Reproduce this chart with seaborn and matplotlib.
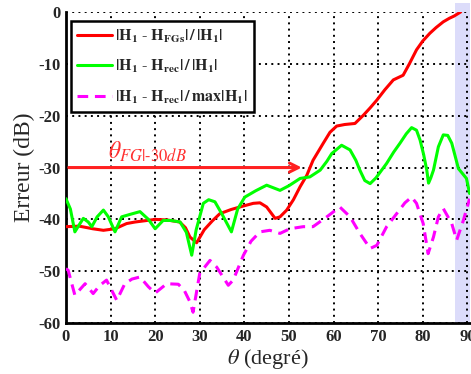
import numpy as np
import pandas as pd
import matplotlib
matplotlib.use("Agg")
import matplotlib.pyplot as plt
import seaborn as sns

# courbe |H1 - H_FGs| / |H1|
theta_fgs = [0, 3, 6, 8.4, 11, 13.6, 15.5, 17.3, 20, 22.6, 25.5, 26.8, 27.8, 29.3, 31, 32.8,
             34.5, 37, 39, 42, 43.5, 45, 46.9, 48, 49.5, 51, 52.5, 54, 55.4, 57.7, 59.2, 60.7,
             62.5, 64.8, 66.7, 68.2, 69.7, 71.5, 73.4, 75.6, 77, 78.6, 80, 81.6, 83, 84.6, 86,
             87, 88.5]
err_fgs = [-41.4, -41.3, -41.8, -42.1, -41.8, -40.8, -40.5, -40.3, -40, -40.1, -40.5, -41.6,
           -43.4, -44.5, -42, -40.3, -38.9, -38.1, -37.6, -36.9, -36.8, -37.6, -39.8, -39.5,
           -38.2, -36.2, -33.7, -31.5, -28.6, -25.3, -23.2, -22, -21.7, -21.5, -19.9, -18.5,
           -17, -15, -13.1, -12.2, -10, -7.3, -5.6, -4.1, -3, -1.9, -1.2, -0.8, 0]

# courbe |H1 - H_rec| / |H1|
theta_rec = [0, 1, 2, 3, 3.9, 5, 5.8, 7, 8.4, 9.5, 11, 12.5, 14.5, 16.6, 18.5, 20, 21.8, 23.5,
             25.6, 27, 28.2, 29.2, 30.8, 32, 33.4, 35, 37.1, 38.5, 40.1, 42.5, 45, 48, 50, 52.5,
             54.7, 57, 58.5, 59.6, 61.8, 63.7, 65, 65.9, 67, 68.2, 69.5, 71.9, 73.5, 74.9, 76.3,
             77.5, 78.6, 79.4, 80.2, 80.9, 81.3, 81.8, 82.4, 83.5, 84.6, 85.6, 86.5, 88, 89.8,
             90.5]
err_rec = [-36, -38, -42.4, -41, -39.8, -40.5, -41.4, -39.5, -38.2, -39.5, -42.4, -39.5, -39,
           -38.5, -40, -41.8, -40.2, -40.2, -40.5, -42.5, -46.9, -42, -36.9, -36.2, -36.6, -39,
           -42.4, -38, -35.7, -34.5, -33.4, -34.4, -33.5, -32.1, -31.8, -30.5, -28.8, -27.3,
           -25.7, -26.6, -28.6, -30.5, -32.5, -33.1, -32, -29.2, -27, -25.3, -23.5, -22.3,
           -22.8, -24.7, -27.5, -30.5, -33, -32, -30.5, -26, -23.7, -23.8, -25.3, -30.2, -32.1,
           -35]

# courbe |H1 - H_rec| / max|H1|
theta_max = [0, 0.5, 2, 4.3, 6.1, 7.5, 9.1, 11.4, 13.2, 14.8, 16.6, 18.5, 20, 22.6, 25.2, 26.6,
             27.8, 28.5, 30, 32.3, 33.8, 36.4, 37.5, 39.8, 41.5, 43.5, 45.7, 48, 50.2, 53.2, 55.4,
             58.5, 61.4, 63.7, 65.9, 68.2, 69.7, 71.9, 74.5, 76, 77.5, 78.6, 80.1, 81.2, 82.4,
             83.5, 84.6, 86.5, 87.6, 89.1, 90.5]
err_max = [-49.5, -49.8, -54.6, -52.4, -54.3, -52.8, -51.7, -55.6, -52.4, -51.5, -51.1, -53,
           -54.2, -52.4, -52.5, -53.8, -55.9, -57.9, -50.4, -47.9, -49.2, -52.7, -51.7, -46.9,
           -44.2, -42.4, -42.1, -42.7, -41.8, -41.4, -41.4, -39.5, -37.6, -39.5, -42.7, -45.6,
           -45, -41.4, -38.5, -36.8, -35.7, -36.9, -40.8, -46.6, -43.4, -39.5, -37.9, -40.8,
           -44, -40.2, -36]

labels = [r"$\mathbf{|H_1}$ - $\mathbf{H_{FGs}|\,/\,|H_1|}$",
          r"$\mathbf{|H_1}$ - $\mathbf{H_{rec}|\,/\,|H_1|}$",
          r"$\mathbf{|H_1}$ - $\mathbf{H_{rec}|\,/\,max|H_1|}$"]
colors = ["#ff0000", "#00ff00", "#ff00ff"]

df = pd.concat([
    pd.DataFrame({"theta": theta_fgs, "err": err_fgs, "serie": labels[0]}),
    pd.DataFrame({"theta": theta_rec, "err": err_rec, "serie": labels[1]}),
    pd.DataFrame({"theta": theta_max, "err": err_max, "serie": labels[2]}),
])

sns.set_theme(style="white")
plt.rcParams["font.family"] = ["Liberation Serif", "DejaVu Serif"]
plt.rcParams["mathtext.fontset"] = "stix"
plt.rcParams["axes.unicode_minus"] = False

fig = plt.figure(figsize=(4.71, 3.74), dpi=100)
ax = fig.add_axes([0.140, 0.136, 0.857, 0.832])

# zone grisee a droite
ax.axvspan(87.2, 90.5, ymin=0, ymax=1.03, color="#dcdcfa", lw=0, clip_on=False, zorder=0)

sns.lineplot(data=df, x="theta", y="err", hue="serie", style="serie",
             palette=dict(zip(labels, colors)),
             dashes={labels[0]: "", labels[1]: "", labels[2]: (3.5, 2.2)},
             sort=False, estimator=None, lw=2.2, ax=ax, zorder=3)

ax.set_xlim(0, 90.5)
ax.set_ylim(-60, 0)
ax.set_xticks(np.arange(0, 91, 10))
ax.set_yticks(np.arange(-60, 1, 10))
ax.grid(True, color="black", linestyle=(0, (1, 2.2)), lw=1.4)
for s in ["top", "right"]:
    ax.spines[s].set_visible(False)
for s in ["left", "bottom"]:
    ax.spines[s].set_color("black")
    ax.spines[s].set_linewidth(2)
ax.tick_params(length=0, labelsize=12, pad=4)
for t in ax.get_xticklabels() + ax.get_yticklabels():
    t.set_fontweight("bold")

ax.set_xlabel(r"$\theta$ (degré)", fontsize=16, labelpad=2)
ax.set_ylabel("Erreur (dB)", fontsize=17, labelpad=2)

# fleche du seuil -30 dB
ax.annotate("", xy=(53.5, -30), xytext=(0, -30),
            arrowprops=dict(arrowstyle="->", color="#ff2020", lw=2.2,
                            mutation_scale=16), zorder=4)
ax.text(9.5, -28.3, r"$\theta_{FG|\text{-30}dB}$", color="#ff3030", fontsize=17)

leg = ax.legend(loc="upper left", bbox_to_anchor=(0.0, 0.985), fontsize=11.5,
                frameon=True, fancybox=False, handlelength=2.2, handletextpad=0.2,
                borderpad=0.4, labelspacing=0.8, borderaxespad=0.3)
leg.get_frame().set_edgecolor("black")
leg.get_frame().set_linewidth(1.8)
leg.get_frame().set_alpha(1)

fig.savefig("out.png", dpi=100)
